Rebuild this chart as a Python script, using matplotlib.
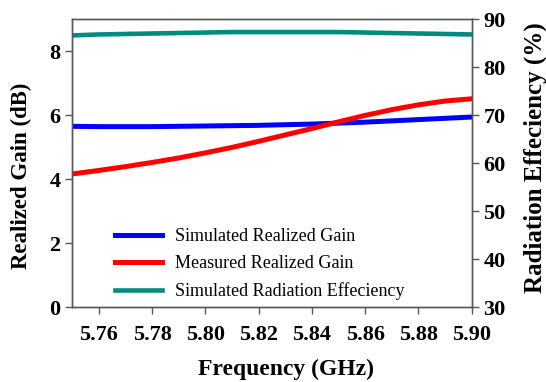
import numpy as np
import matplotlib.pyplot as plt

plt.rcParams['font.family'] = ['Liberation Serif', 'DejaVu Serif']

freq = [5.75, 5.76, 5.77, 5.78, 5.79, 5.80, 5.81, 5.82, 5.83, 5.84, 5.85, 5.86, 5.87, 5.88, 5.89, 5.90]
sim_gain = [5.65, 5.64, 5.64, 5.64, 5.65, 5.66, 5.67, 5.68, 5.70, 5.72, 5.75, 5.78, 5.82, 5.86, 5.90, 5.94]
meas_gain = [4.16, 4.27, 4.39, 4.52, 4.66, 4.82, 4.99, 5.18, 5.38, 5.58, 5.79, 5.99, 6.17, 6.32, 6.44, 6.51]
sim_eff = [86.6, 86.8, 86.9, 87.0, 87.1, 87.2, 87.3, 87.3, 87.3, 87.3, 87.3, 87.2, 87.1, 87.0, 86.9, 86.8]

fig, ax = plt.subplots(figsize=(5.46, 3.82), dpi=100)
fig.subplots_adjust(left=0.132, right=0.864, top=0.950, bottom=0.196)
ax2 = ax.twinx()

l1, = ax.plot(freq, sim_gain, color='#0000ff', lw=3.6, label='Simulated Realized Gain')
l2, = ax.plot(freq, meas_gain, color='#ff0000', lw=3.6, label='Measured Realized Gain')
l3, = ax2.plot(freq, sim_eff, color='#008b80', lw=3.3, label='Simulated Radiation Effeciency')

ax.set_xlim(5.75, 5.90)
ax.set_ylim(0, 9)
ax2.set_ylim(30, 90)
ax.set_xticks(np.arange(5.76, 5.905, 0.02))
ax.set_yticks([0, 2, 4, 6, 8])
ax2.set_yticks([30, 40, 50, 60, 70, 80, 90])

for a in (ax, ax2):
    for s in a.spines.values():
        s.set_color('#555555')
        s.set_linewidth(1.0)
    a.tick_params(colors='#555555', labelcolor='black', labelsize=16, length=5, width=1.0)
    for t in a.get_xticklabels() + a.get_yticklabels():
        t.set_fontweight('bold')
ax.tick_params(axis='x', pad=8)

ax.set_xlabel('Frequency (GHz)', fontsize=17, fontweight='bold')
ax.xaxis.set_label_coords(0.535, -0.18)
ax.set_ylabel('Realized Gain (dB)', fontsize=16.5, fontweight='bold')
ax.yaxis.set_label_coords(-0.1, 0.455)
ax2.set_ylabel('Radiation Effeciency (%)', fontsize=18, fontweight='bold')
ax2.yaxis.set_label_coords(1.13, 0.52)

ax.legend(handles=[l1, l2, l3], loc='lower left', bbox_to_anchor=(0.0675, -0.032),
          frameon=False, fontsize=13, handlelength=2.6, handletextpad=0.7,
          labelspacing=0.55)

fig.savefig('out.png')
